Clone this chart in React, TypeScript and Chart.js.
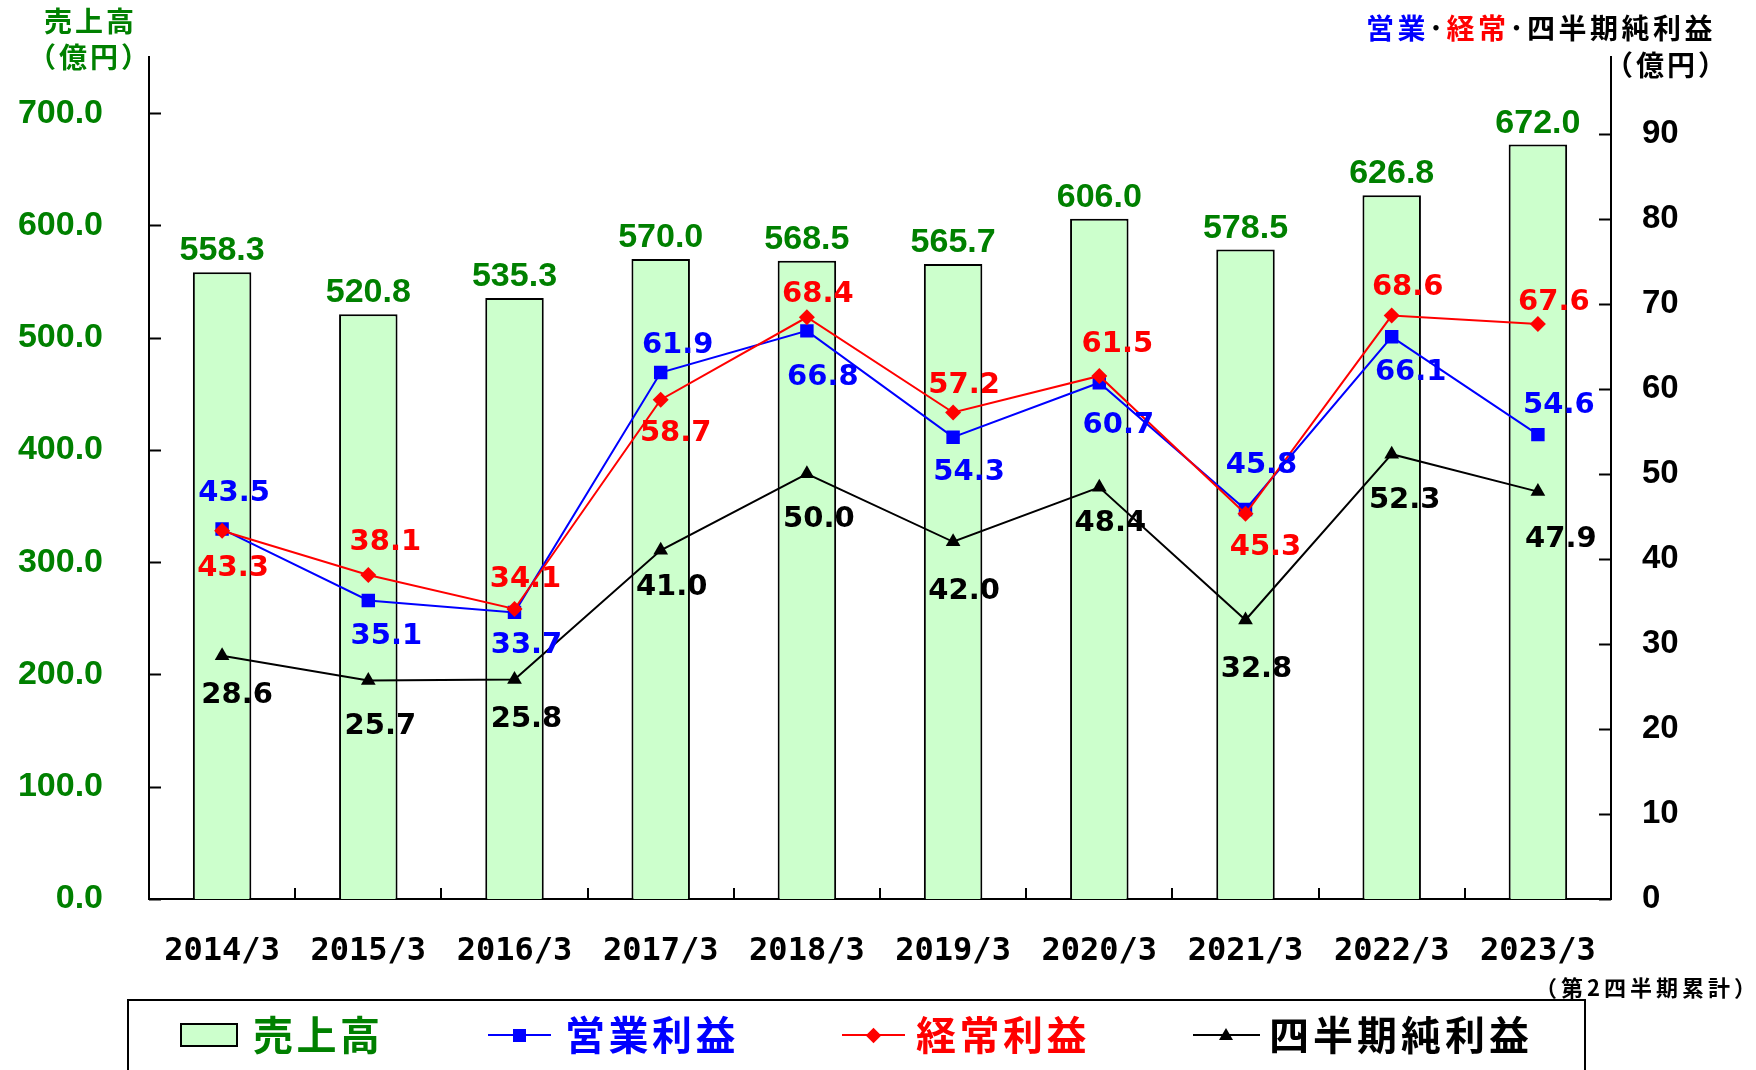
import React, { useEffect, useRef } from "react";
import { Chart, registerables } from "chart.js";

Chart.register(...registerables);

// ---- data ----
const categories = ["2014/3", "2015/3", "2016/3", "2017/3", "2018/3", "2019/3", "2020/3", "2021/3", "2022/3", "2023/3"];
const sales = [558.3, 520.8, 535.3, 570.0, 568.5, 565.7, 606.0, 578.5, 626.8, 672.0];
const operatingProfit = [43.5, 35.1, 33.7, 61.9, 66.8, 54.3, 60.7, 45.8, 66.1, 54.6];
const ordinaryProfit = [43.3, 38.1, 34.1, 58.7, 68.4, 57.2, 61.5, 45.3, 68.6, 67.6];
const netProfit = [28.6, 25.7, 25.8, 41.0, 50.0, 42.0, 48.4, 32.8, 52.3, 47.9];

// label placement (offset from the point, px)
const operatingLabelOffsets = [[12, -39], [18, 33], [12, 30], [17, -30], [16, 44], [16, 32], [19, 40], [16, -47], [19, 33], [21, -32]];
const ordinaryLabelOffsets = [[11, 35], [17, -36], [11, -33], [15, 31], [11, -26], [11, -30], [18, -35], [20, 31], [16, -31], [16, -25]];
const netLabelOffsets = [[15, 37], [12, 43], [12, 37], [11, 34], [12, 43], [11, 47], [11, 33], [11, 46], [13, 43], [23, 45]];

const GREEN = "#008000";
const BLUE = "#0000FF";
const RED = "#FF0000";
const BLACK = "#000000";
const BAR_FILL = "#CCFFCC";

const CJK = '"Noto Sans CJK JP", "Noto Sans CJK SC", sans-serif';

const valueLabelPlugin = {
  id: "valueLabels",
  afterDatasetsDraw(chart: any) {
    const ctx = chart.ctx;
    ctx.save();
    // bar labels
    const barMeta = chart.getDatasetMeta(0);
    ctx.font = 'bold 34px "Liberation Sans", Arial, sans-serif';
    ctx.fillStyle = GREEN;
    ctx.textAlign = "center";
    ctx.textBaseline = "alphabetic";
    const capBar = 34 * 0.716;
    barMeta.data.forEach((el: any, i: number) => {
      const cy = el.y - 24;
      ctx.fillText(sales[i].toFixed(1), el.x, cy + capBar / 2);
    });
    const specs = [
      { idx: 1, values: operatingProfit, offsets: operatingLabelOffsets, color: BLUE },
      { idx: 2, values: ordinaryProfit, offsets: ordinaryLabelOffsets, color: RED },
      { idx: 3, values: netProfit, offsets: netLabelOffsets, color: BLACK },
    ];
    ctx.font = 'bold 29px "DejaVu Sans", sans-serif';
    const cap = 29 * 0.729;
    specs.forEach((s) => {
      const meta = chart.getDatasetMeta(s.idx);
      ctx.fillStyle = s.color;
      meta.data.forEach((el: any, i: number) => {
        const [dx, dy] = s.offsets[i];
        ctx.fillText(s.values[i].toFixed(1), el.x + dx, el.y + dy + cap / 2);
      });
    });
    ctx.restore();
  },
};

const innerTicksPlugin = {
  id: "innerTicks",
  afterDraw(chart: any) {
    const { ctx, chartArea } = chart;
    const xs = chart.scales.x;
    const ys = chart.scales.y;
    const y1s = chart.scales.y1;
    ctx.save();
    ctx.strokeStyle = "#000";
    ctx.lineWidth = 2;
    ctx.beginPath();
    ys.ticks.forEach((t: any) => {
      const py = Math.round(ys.getPixelForValue(t.value)) + 0.5;
      ctx.moveTo(chartArea.left, py);
      ctx.lineTo(chartArea.left + 12, py);
    });
    y1s.ticks.forEach((t: any) => {
      const py = Math.round(y1s.getPixelForValue(t.value)) + 0.5;
      ctx.moveTo(chartArea.right - 12, py);
      ctx.lineTo(chartArea.right, py);
    });
    for (let i = 1; i < categories.length; i++) {
      const px = Math.round((xs.getPixelForValue(i - 1) + xs.getPixelForValue(i)) / 2);
      ctx.moveTo(px, chartArea.bottom);
      ctx.lineTo(px, chartArea.bottom - 11);
    }
    ctx.stroke();
    ctx.restore();
  },
};

function abs(left: number, top: number, extra: any = {}) {
  return { position: "absolute" as const, left, top, whiteSpace: "nowrap" as const, ...extra };
}

function noPad(s: any) {
  s.paddingTop = 0;
  s.paddingBottom = 0;
  s.paddingLeft = 0;
  s.paddingRight = 0;
}

export default function App() {
  const ref = useRef<HTMLCanvasElement | null>(null);

  useEffect(() => {
    if (!ref.current) return;
    const chart = new Chart(ref.current, {
      type: "bar",
      data: {
        labels: categories,
        datasets: [
          {
            type: "bar",
            label: "売上高",
            data: sales,
            yAxisID: "y",
            backgroundColor: BAR_FILL,
            borderColor: "#000",
            borderWidth: 2,
            barPercentage: 0.4,
            categoryPercentage: 1.0,
            order: 4,
          } as any,
          {
            type: "line",
            label: "営業利益",
            data: operatingProfit,
            yAxisID: "y1",
            borderColor: BLUE,
            borderWidth: 2,
            backgroundColor: BLUE,
            pointStyle: "rect",
            pointRadius: 9.5,
            pointBackgroundColor: BLUE,
            pointBorderWidth: 0,
            tension: 0,
            fill: false,
            order: 2,
          } as any,
          {
            type: "line",
            label: "経常利益",
            data: ordinaryProfit,
            yAxisID: "y1",
            borderColor: RED,
            borderWidth: 2,
            backgroundColor: RED,
            pointStyle: "rectRot",
            pointRadius: 8,
            pointBackgroundColor: RED,
            pointBorderWidth: 0,
            tension: 0,
            fill: false,
            order: 1,
          } as any,
          {
            type: "line",
            label: "四半期純利益",
            data: netProfit,
            yAxisID: "y1",
            borderColor: BLACK,
            borderWidth: 2,
            backgroundColor: BLACK,
            pointStyle: "triangle",
            pointRadius: 8.5,
            pointBackgroundColor: BLACK,
            pointBorderWidth: 0,
            tension: 0,
            fill: false,
            order: 3,
          } as any,
        ],
      },
      options: {
        animation: false,
        responsive: false,
        maintainAspectRatio: false,
        layout: { padding: { top: 57, left: 0, right: 0, bottom: 0 } },
        plugins: {
          legend: { display: false },
          tooltip: { enabled: false },
          title: { display: false },
        },
        scales: {
          x: {
            type: "category",
            offset: true,
            grid: { display: false, drawTicks: false },
            border: { display: true, color: "#000", width: 2 },
            ticks: {
              color: "#000",
              font: { family: '"DejaVu Sans Mono", monospace', size: 32, weight: "bold" },
              padding: 33,
              maxRotation: 0,
              autoSkip: false,
            },
            afterFit: (s: any) => {
              s.height = 171;
              noPad(s);
            },
          },
          y: {
            position: "left",
            min: 0,
            max: 750,
            grid: { display: false, drawTicks: false },
            border: { display: true, color: "#000", width: 2 },
            ticks: {
              stepSize: 100,
              includeBounds: false,
              color: GREEN,
              font: { family: '"Liberation Sans", Arial, sans-serif', size: 34, weight: "bold" },
              padding: 46,
              callback: (v: any) => Number(v).toFixed(1),
            },
            afterFit: (s: any) => {
              s.width = 149;
              noPad(s);
            },
          },
          y1: {
            position: "right",
            min: 0,
            max: 99,
            grid: { display: false, drawTicks: false },
            border: { display: true, color: "#000", width: 2 },
            ticks: {
              stepSize: 10,
              includeBounds: false,
              color: "#000",
              font: { family: '"Liberation Sans", Arial, sans-serif', size: 33, weight: "bold" },
              padding: 31,
              callback: (v: any) => String(v),
            },
            afterFit: (s: any) => {
              s.width = 145;
              noPad(s);
            },
          },
        },
      } as any,
      plugins: [valueLabelPlugin, innerTicksPlugin],
    });
    return () => chart.destroy();
  }, []);

  const cjk = (size: number, ls: number, color: string) => ({
    fontFamily: CJK,
    fontWeight: 700,
    fontSize: size,
    lineHeight: `${size}px`,
    letterSpacing: ls,
    color,
  });

  return (
    <div style={{ position: "fixed", left: 0, top: 0, width: 1756, height: 1070, overflow: "hidden", background: "#fff" }}>
      <canvas ref={ref} width={1756} height={1070} style={{ position: "absolute", left: 0, top: 0 }} />

      {/* axis titles */}
      <div style={abs(44, 6, cjk(28, 3, GREEN))}>売上高</div>
      <div style={abs(28, 42, cjk(28, 3, GREEN))}>（億円）</div>
      <div style={abs(1366, 13, cjk(28, 3.5, BLACK))}>
        <span style={{ color: BLUE }}>営業</span>･<span style={{ color: RED }}>経常</span>･四半期純利益
      </div>
      <div style={abs(1605, 50, cjk(28, 3, BLACK))}>（億円）</div>
      <div style={abs(1535, 975, cjk(22, 4, BLACK))}>（第2四半期累計）</div>

      {/* legend */}
      <div style={abs(127, 999, { width: 1459, height: 140, border: "2px solid #000", boxSizing: "border-box" })} />
      <div style={abs(180, 1023, { width: 58, height: 24, background: BAR_FILL, border: "2px solid #000", boxSizing: "border-box" })} />
      <div style={abs(253, 1013, cjk(40, 3.5, GREEN))}>売上高</div>

      <div style={abs(488, 1034, { width: 63, height: 2, background: BLUE })} />
      <div style={abs(513, 1029, { width: 13, height: 13, background: BLUE })} />
      <div style={abs(565, 1013, cjk(40, 3.5, BLUE))}>営業利益</div>

      <div style={abs(842, 1034, { width: 63, height: 2, background: RED })} />
      <div style={abs(868, 1030, { width: 11, height: 11, background: RED, transform: "rotate(45deg)" })} />
      <div style={abs(916, 1013, cjk(40, 3.5, RED))}>経常利益</div>

      <div style={abs(1193, 1034, { width: 67, height: 2, background: BLACK })} />
      <div
        style={abs(1219, 1028, {
          width: 0,
          height: 0,
          borderLeft: "7px solid transparent",
          borderRight: "7px solid transparent",
          borderBottom: "12px solid #000",
        })}
      />
      <div style={abs(1269, 1013, cjk(40, 4, BLACK))}>四半期純利益</div>
    </div>
  );
}
